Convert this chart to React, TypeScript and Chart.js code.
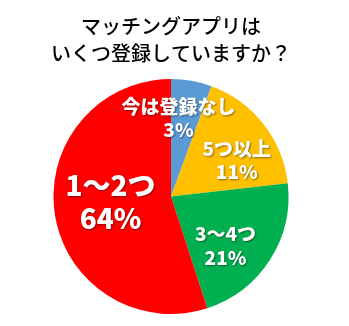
import React, { useEffect, useRef } from "react";
import { Chart, registerables } from "chart.js";

Chart.register(...registerables);

const categories = ["今は登録なし", "5つ以上", "3〜4つ", "1〜2つ"];
const sliceValues = [5.6, 17.6, 21.8, 55.0];
const percentLabels = ["3%", "11%", "21%", "64%"];
const sliceColors = ["#5B9BD5", "#FFC000", "#00B050", "#FF0000"];
const titleLines = ["マッチングアプリは", "いくつ登録していますか？"];

// label placement relative to pie centre, in units of the outer radius
const labelOffsets = [
  [0.064, -0.668],
  [0.56, -0.31],
  [0.464, 0.421],
  [-0.515, 0.043],
];
const labelFontSizes = [19, 19, 19, 28];
const labelLineGaps = [23, 23, 24, 33];

const labelPlugin = {
  id: "sliceLabels",
  afterDatasetsDraw(chart: any) {
    const ctx = chart.ctx;
    const meta = chart.getDatasetMeta(0);
    meta.data.forEach((arc: any, i: number) => {
      const r = arc.outerRadius;
      const cx = arc.x + labelOffsets[i][0] * r;
      const cy = arc.y + labelOffsets[i][1] * r;
      const gap = labelLineGaps[i];
      ctx.save();
      ctx.font = `900 ${labelFontSizes[i]}px "Noto Sans CJK JP", "Noto Sans", sans-serif`;
      ctx.textAlign = "center";
      ctx.textBaseline = "middle";
      ctx.fillStyle = "#FFFFFF";
      ctx.shadowColor = "rgba(0,0,0,0.45)";
      ctx.shadowOffsetX = 1;
      ctx.shadowOffsetY = 1;
      ctx.shadowBlur = 2;
      ctx.fillText(categories[i], cx, cy - gap / 2);
      ctx.fillText(percentLabels[i], cx, cy + gap / 2);
      ctx.restore();
    });
  },
};

export default function App() {
  const ref = useRef<HTMLCanvasElement>(null);
  useEffect(() => {
    if (!ref.current) return;
    const chart = new Chart(ref.current, {
      type: "pie",
      data: {
        labels: categories,
        datasets: [
          {
            data: sliceValues,
            backgroundColor: sliceColors,
            borderWidth: 0,
          },
        ],
      },
      options: {
        responsive: false,
        animation: false,
        layout: { padding: { left: 0, right: 7, top: 0, bottom: 12 } },
        plugins: {
          legend: { display: false },
          tooltip: { enabled: false },
          title: {
            display: true,
            text: titleLines,
            color: "#000000",
            font: {
              family: '"Noto Sans CJK JP", "Noto Sans", sans-serif',
              size: 20,
              weight: "500",
              lineHeight: 1.35,
            },
            padding: { top: 12.5, bottom: 12.5 },
          },
        },
      },
      plugins: [labelPlugin],
    });
    return () => chart.destroy();
  }, []);
  return (
    <div style={{ position: "absolute", left: 0, top: 0, width: 349, height: 326, background: "#fff" }}>
      <canvas ref={ref} width={349} height={326} />
    </div>
  );
}
